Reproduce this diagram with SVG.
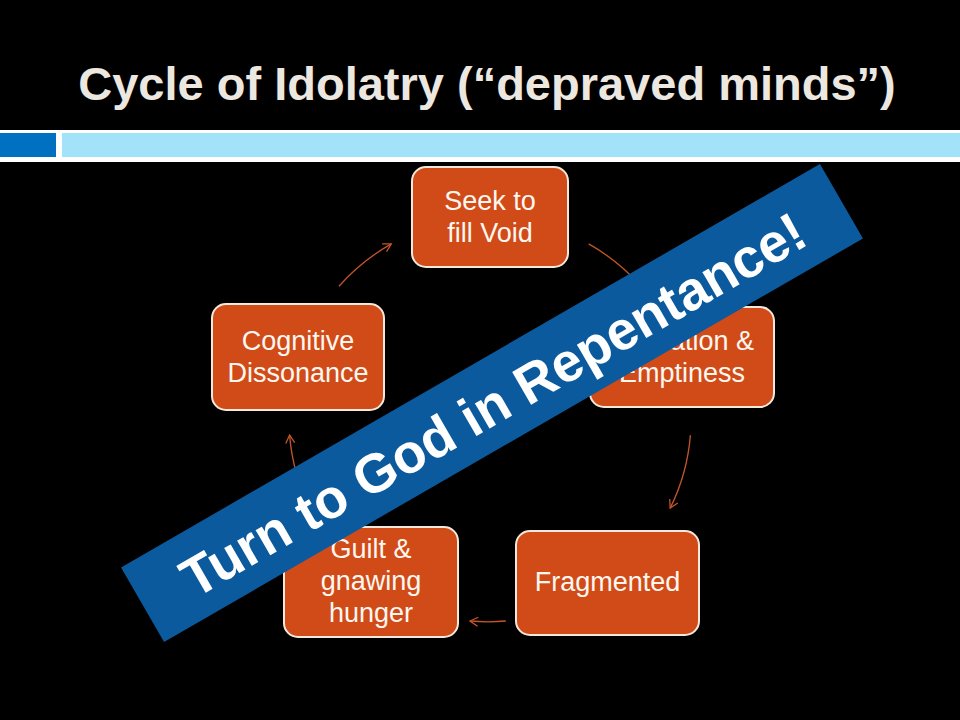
<svg xmlns="http://www.w3.org/2000/svg" width="960" height="720" viewBox="0 0 960 720">
  <defs>
    <style>
      .node rect { fill: #d14b19; stroke: #f6e9dc; stroke-width: 2; }
      .node text { font-family: "Liberation Sans", Arial, sans-serif; font-size: 27px; fill: #fdf7f0; text-anchor: middle; }
      .conn { fill: none; stroke: #c4552a; stroke-width: 1.3; marker-end: url(#arrow); }
      .title { font-family: "Liberation Sans", Arial, sans-serif; font-weight: bold; font-size: 47px; fill: #ece8e0; text-anchor: middle; }
      .banner-text { font-family: "Liberation Sans", Arial, sans-serif; font-weight: bold; font-size: 55px; fill: #ffffff; text-anchor: middle; }
    </style>
    <marker id="arrow" markerUnits="userSpaceOnUse" markerWidth="12" markerHeight="12" viewBox="0 0 12 12" refX="10" refY="6" orient="auto">
      <path d="M2,1.5 L10,6 L2,10.5" fill="none" stroke="#c4552a" stroke-width="1.3"/>
    </marker>
  </defs>

  <rect x="0" y="0" width="960" height="720" fill="#000000"/>

  <g id="title">
    <text class="title" x="487" y="100">Cycle of Idolatry (“depraved minds”)</text>
  </g>

  <g id="header-bar">
    <rect x="0" y="130" width="960" height="32" fill="#ffffff"/>
    <rect x="0" y="133" width="56" height="24" fill="#0070c0"/>
    <rect x="62" y="133" width="898" height="24" fill="#a3e3fa"/>
  </g>

  <g id="connectors">
    <path class="conn" d="M588.7,243.9 A201,201 0 0 1 641,286.3"/>
    <path class="conn" d="M690.4,435.1 A201,201 0 0 1 670.2,508.1"/>
    <path class="conn" d="M505.8,621 A202,202 0 0 1 470,621"/>
    <path class="conn" d="M309.8,508.1 A201,201 0 0 1 289.6,435.1"/>
    <path class="conn" d="M339,286.3 A201,201 0 0 1 391.3,243.9"/>
  </g>

  <g id="node-seek" class="node">
    <rect x="412" y="167" width="156" height="100" rx="14"/>
    <text x="490" y="210">Seek to</text>
    <text x="490" y="242">fill Void</text>
  </g>

  <g id="node-alienation" class="node">
    <rect x="590" y="307" width="184" height="100" rx="14"/>
    <text x="682" y="350">Alienation &amp;</text>
    <text x="682" y="382">Emptiness</text>
  </g>

  <g id="node-fragmented" class="node">
    <rect x="516" y="531" width="183" height="104" rx="14"/>
    <text x="607.5" y="591">Fragmented</text>
  </g>

  <g id="node-guilt" class="node">
    <rect x="284" y="527" width="174" height="110" rx="14"/>
    <text x="371" y="558">Guilt &amp;</text>
    <text x="371" y="590">gnawing</text>
    <text x="371" y="622">hunger</text>
  </g>

  <g id="node-cognitive" class="node">
    <rect x="212" y="304" width="172" height="106" rx="14"/>
    <text x="298" y="350">Cognitive</text>
    <text x="298" y="382">Dissonance</text>
  </g>

  <g id="banner" transform="translate(492,403) rotate(-30)">
    <rect x="-403.5" y="-43" width="807" height="86" fill="#0b5a9e"/>
    <text class="banner-text" x="0" y="21" textLength="711" lengthAdjust="spacingAndGlyphs">Turn to God in Repentance!</text>
  </g>
</svg>
